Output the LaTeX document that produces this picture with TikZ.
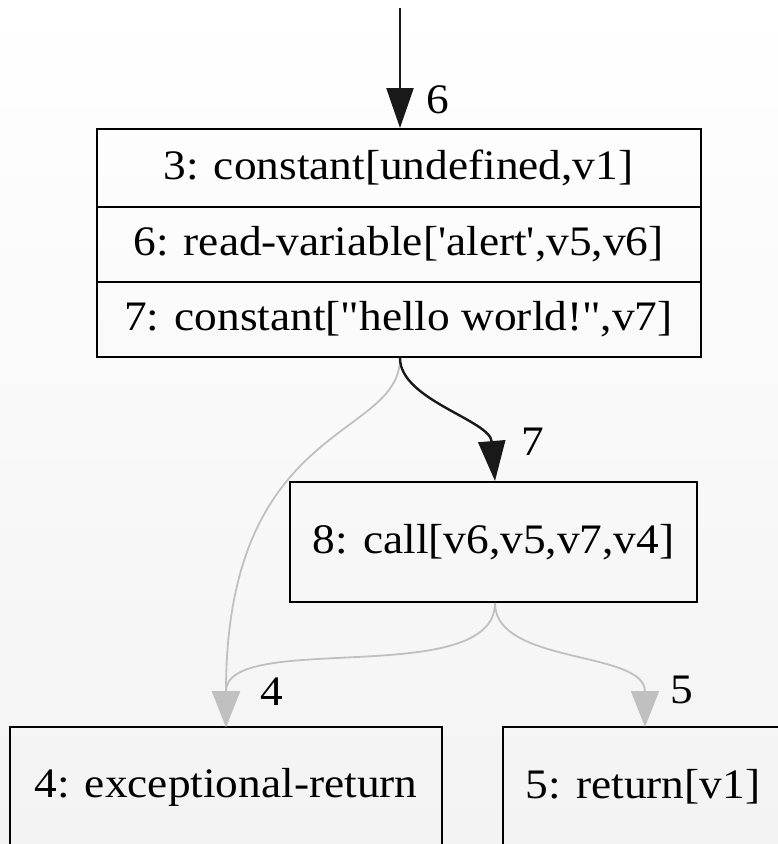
\documentclass[tikz,border=0pt]{standalone}
\usepackage{fontspec}
\setmainfont{Liberation Serif}[Ligatures=TeXOff, FakeStretch=1.08]
\usetikzlibrary{arrows.meta}
\definecolor{edgegray}{HTML}{C0C0C0}
\definecolor{bgbottom}{HTML}{F3F3F3}
\begin{document}
\begin{tikzpicture}[x=1pt,y=-1pt,
  box/.style={draw=black, line width=2pt, rectangle, inner sep=0pt, font=\fontsize{42}{50}\selectfont},
  lbl/.style={font=\fontsize{42}{50}\selectfont, inner sep=0pt},
  blackedge/.style={draw=black!90, line width=2.4pt, -{Triangle[length=40pt,width=27pt]}},
  grayedge/.style={draw=edgegray, line width=1.8pt, -{Triangle[length=36pt,width=28pt]}}
]
\shade[top color=white, bottom color=bgbottom] (0,0) rectangle (778,844);
\useasboundingbox (0,0) rectangle (778,844);

\node[box, minimum width=604pt, minimum height=78pt] (r1) at (398.5,168) {3: constant[undefined,v1]};
\node[box, minimum width=604pt, minimum height=75pt] (r2) at (398.5,244.5) {6: read-variable['alert',v5,v6]};
\node[box, minimum width=604pt, minimum height=75pt] (r3) at (398.5,319.5) {7: constant["hello world!",v7]};
\node[box, minimum width=407pt, minimum height=120pt] (call) at (493.5,542) {8: call[v6,v5,v7,v4]};
\node[box, minimum width=432pt, minimum height=120pt] (exc) at (226,787) {4: exceptional-return};
\node[box, minimum width=280pt, minimum height=120pt] (ret) at (643,787) {5: return[v1]};

\coordinate (start) at (400,8);
\coordinate (r3s) at ([xshift=1.5pt]r3.south);
\coordinate (r1n) at ([xshift=1.5pt]r1.north);
\coordinate (calln) at ([xshift=1.5pt]call.north);
\coordinate (calls) at ([xshift=1.5pt]call.south);
\coordinate (excn) at (226,727);
\coordinate (retn) at (645,727);

\draw[blackedge] (start) -- (r1n);
\node[lbl] (l6) at (438,100) {6};

\draw[grayedge] (r3s) .. controls (400,440) and (226,420) .. (excn);
\draw[blackedge] (r3s) .. controls (400,400) and (490,420) .. (calln);
\node[lbl] (l7) at (533,442) {7};

\draw[grayedge] (calls) .. controls (495,690) and (226,630) .. (excn);
\node[lbl] (l4) at (272,692) {4};
\draw[grayedge] (calls) .. controls (495,665) and (645,650) .. (retn);
\node[lbl] (l5) at (682,690) {5};
\end{tikzpicture}
\end{document}
